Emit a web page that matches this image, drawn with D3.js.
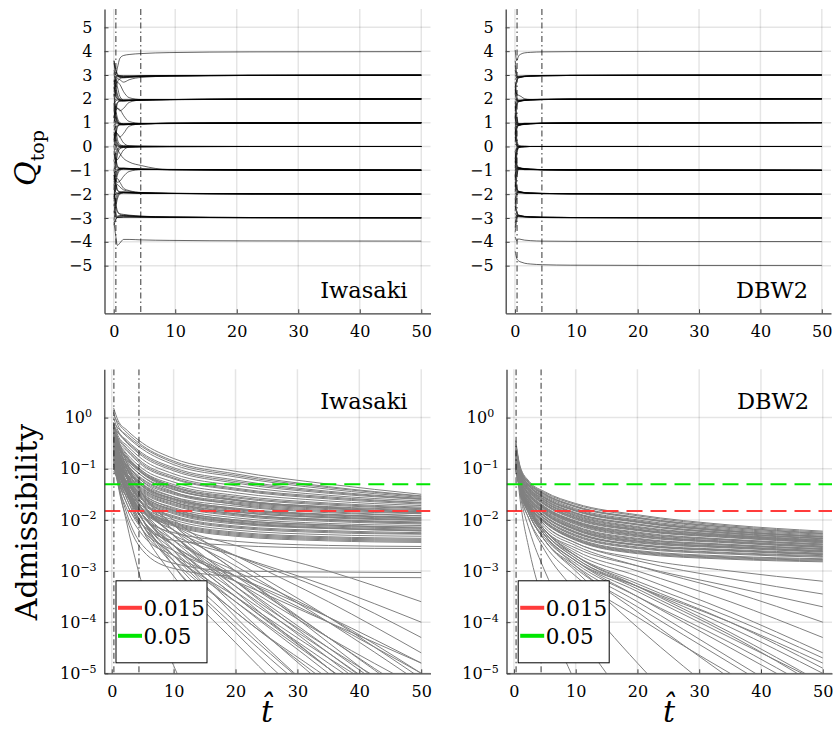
<!DOCTYPE html>
<html>
<head>
<meta charset="utf-8">
<script src="https://cdn.jsdelivr.net/npm/d3@7"></script>
<style>
  body { margin: 0; background: #fff; }
</style>
</head>
<body>
<div id="chart"></div>
<script>
// flow time grid used by the topological charge trajectories
const tTop = [0.05, 0.3, 0.6, 1, 1.6, 2.5, 4.5, 9, 22, 50];

// Q_top trajectories, Iwasaki action
const iwasakiQ = [
  [3.6, 3.0, 3.3, 3.7, 3.82, 3.86, 3.9, 3.94, 3.97, 3.98],
  [3.5, 3.2, 3.0, 2.9, 2.88, 2.9, 2.93, 2.96, 2.98, 2.99],
  [2.4, 2.8, 2.92, 2.92, 2.9, 2.91, 2.94, 2.96, 2.98, 2.99],
  [3.2, 3.0, 2.95, 2.93, 2.92, 2.93, 2.95, 2.97, 2.98, 2.99],
  [1.6, 2.3, 2.7, 2.85, 2.9, 2.92, 2.95, 2.97, 2.98, 2.99],
  [2.9, 2.95, 2.97, 2.96, 2.95, 2.95, 2.96, 2.97, 2.99, 3.0],
  [2.1, 2.6, 2.85, 2.8, 2.7, 2.8, 2.9, 2.95, 2.98, 2.99],
  [3.6, 3.3, 3.05, 2.95, 2.93, 2.94, 2.96, 2.97, 2.99, 3.0],
  [2.7, 2.9, 2.98, 2.98, 2.97, 2.97, 2.97, 2.98, 2.99, 3.0],
  [2.5, 2.2, 2.0, 1.92, 1.9, 1.92, 1.94, 1.96, 1.98, 1.99],
  [1.2, 1.6, 1.85, 1.9, 1.92, 1.93, 1.95, 1.97, 1.98, 1.99],
  [2.8, 2.4, 2.1, 1.95, 1.92, 1.93, 1.95, 1.97, 1.98, 1.99],
  [1.8, 1.9, 1.95, 1.96, 1.95, 1.95, 1.96, 1.97, 1.99, 2.0],
  [2.3, 2.6, 2.7, 2.6, 2.3, 2.05, 1.97, 1.97, 1.99, 2.0],
  [1.5, 1.7, 1.6, 1.5, 1.6, 1.85, 1.95, 1.97, 1.99, 2.0],
  [3.1, 2.6, 2.2, 2.0, 1.94, 1.94, 1.96, 1.97, 1.98, 1.99],
  [1.0, 1.4, 1.8, 1.92, 1.93, 1.94, 1.96, 1.97, 1.98, 2.0],
  [2.2, 2.1, 2.0, 1.96, 1.94, 1.95, 1.96, 1.97, 1.99, 2.0],
  [2.6, 2.8, 2.5, 2.1, 1.95, 1.94, 1.96, 1.97, 1.99, 2.0],
  [1.5, 1.2, 1.0, 0.92, 0.9, 0.92, 0.94, 0.96, 0.98, 0.99],
  [0.2, 0.6, 0.85, 0.9, 0.92, 0.93, 0.95, 0.97, 0.98, 0.99],
  [1.8, 1.4, 1.1, 0.95, 0.92, 0.93, 0.95, 0.97, 0.98, 0.99],
  [0.9, 0.95, 0.96, 0.96, 0.95, 0.95, 0.96, 0.97, 0.99, 1.0],
  [1.2, 1.5, 1.6, 1.55, 1.3, 1.05, 0.97, 0.97, 0.99, 1.0],
  [0.5, 0.6, 0.5, 0.4, 0.55, 0.85, 0.95, 0.97, 0.99, 1.0],
  [2.2, 1.6, 1.2, 1.0, 0.94, 0.94, 0.96, 0.97, 0.98, 0.99],
  [0.0, 0.4, 0.8, 0.92, 0.93, 0.94, 0.96, 0.97, 0.98, 1.0],
  [1.1, 1.05, 1.0, 0.96, 0.94, 0.95, 0.96, 0.97, 0.99, 1.0],
  [0.7, 0.8, 0.9, 0.93, 0.93, 0.94, 0.96, 0.97, 0.98, 0.99],
  [1.6, 1.3, 1.05, 0.97, 0.95, 0.95, 0.96, 0.98, 0.99, 1.0],
  [0.5, 0.2, 0.05, -0.02, -0.03, -0.02, -0.01, -0.01, 0.0, 0.0],
  [-0.6, -0.3, -0.1, -0.03, -0.02, -0.02, -0.01, -0.01, 0.0, 0.0],
  [0.9, 0.5, 0.15, 0.03, 0.02, 0.02, 0.01, 0.01, 0.0, 0.0],
  [-1.0, -0.6, -0.2, -0.05, -0.03, -0.02, -0.01, 0.0, 0.0, 0.0],
  [0.1, 0.05, 0.02, 0.01, 0.0, 0.0, 0.0, 0.0, 0.0, 0.0],
  [0.3, 0.6, 0.55, 0.4, 0.15, 0.03, 0.01, 0.0, 0.0, 0.0],
  [-0.3, -0.5, -0.55, -0.4, -0.15, -0.03, -0.01, 0.0, 0.0, 0.0],
  [1.3, 0.8, 0.3, 0.08, 0.03, 0.02, 0.01, 0.0, 0.0, 0.0],
  [-1.4, -0.9, -0.35, -0.1, -0.04, -0.02, -0.01, 0.0, 0.0, 0.0],
  [0.6, 0.3, 0.1, 0.02, 0.0, 0.0, 0.0, 0.0, 0.0, 0.0],
  [-1.5, -1.2, -1.0, -0.92, -0.9, -0.92, -0.94, -0.96, -0.98, -0.99],
  [-0.2, -0.6, -0.85, -0.9, -0.92, -0.93, -0.95, -0.97, -0.98, -0.99],
  [-1.8, -1.4, -1.1, -0.95, -0.92, -0.93, -0.95, -0.97, -0.98, -0.99],
  [-0.9, -0.95, -0.96, -0.96, -0.95, -0.95, -0.96, -0.97, -0.99, -1.0],
  [0.3, 0.1, -0.1, -0.3, -0.5, -0.65, -0.8, -0.97, -0.99, -1.0],
  [-1.2, -1.4, -1.5, -1.45, -1.25, -1.05, -0.97, -0.97, -0.99, -1.0],
  [-2.2, -1.6, -1.2, -1.0, -0.94, -0.94, -0.96, -0.97, -0.98, -0.99],
  [0.0, -0.4, -0.8, -0.92, -0.93, -0.94, -0.96, -0.97, -0.98, -1.0],
  [-1.1, -1.05, -1.0, -0.96, -0.94, -0.95, -0.96, -0.97, -0.99, -1.0],
  [-0.6, -0.8, -0.9, -0.93, -0.93, -0.94, -0.96, -0.97, -0.98, -0.99],
  [-2.5, -2.2, -2.0, -1.92, -1.9, -1.92, -1.94, -1.96, -1.98, -1.99],
  [-1.2, -1.6, -1.85, -1.9, -1.92, -1.93, -1.95, -1.97, -1.98, -1.99],
  [-2.8, -2.4, -2.1, -1.95, -1.92, -1.93, -1.95, -1.97, -1.98, -1.99],
  [-1.8, -1.9, -1.95, -1.96, -1.95, -1.95, -1.96, -1.97, -1.99, -2.0],
  [-1.6, -1.4, -1.35, -1.5, -1.75, -1.85, -1.93, -1.97, -1.99, -2.0],
  [-2.3, -1.8, -1.6, -1.7, -1.82, -1.88, -1.94, -1.97, -1.99, -2.0],
  [-3.1, -2.6, -2.2, -2.0, -1.94, -1.94, -1.96, -1.97, -1.98, -1.99],
  [-1.0, -1.4, -1.8, -1.92, -1.93, -1.94, -1.96, -1.97, -1.98, -2.0],
  [-2.1, -2.0, -1.97, -1.96, -1.94, -1.95, -1.96, -1.97, -1.99, -2.0],
  [-3.3, -3.1, -2.95, -2.9, -2.88, -2.9, -2.93, -2.96, -2.98, -2.99],
  [-2.4, -2.8, -2.92, -2.92, -2.9, -2.91, -2.94, -2.96, -2.98, -2.99],
  [-2.0, -2.5, -2.75, -2.82, -2.85, -2.88, -2.92, -2.96, -2.98, -2.99],
  [-1.6, -2.3, -2.7, -2.85, -2.9, -2.92, -2.95, -2.97, -2.98, -2.99],
  [-2.9, -2.95, -2.97, -2.96, -2.95, -2.95, -2.96, -2.97, -2.99, -3.0],
  [-3.2, -3.05, -2.98, -2.96, -2.95, -2.95, -2.96, -2.97, -2.99, -3.0],
  [-2.7, -2.9, -2.98, -2.98, -2.97, -2.97, -2.97, -2.98, -2.99, -3.0],
  [-3.2, -3.7, -4.15, -4.05, -3.9, -3.9, -3.92, -3.94, -3.96, -3.97]
];

// Q_top trajectories, DBW2 action
const dbw2Q = [
  [4.05, 3.6, 3.8, 3.88, 3.93, 3.95, 3.97, 3.98, 3.99, 3.99],
  [3.4, 2.95, 2.88, 2.9, 2.93, 2.95, 2.97, 2.98, 2.99, 3.0],
  [2.5, 2.8, 2.9, 2.92, 2.94, 2.96, 2.97, 2.98, 2.99, 3.0],
  [3.0, 2.9, 2.9, 2.92, 2.94, 2.96, 2.97, 2.98, 2.99, 3.0],
  [3.6, 3.1, 2.93, 2.93, 2.95, 2.96, 2.97, 2.98, 2.99, 3.0],
  [2.2, 2.7, 2.88, 2.91, 2.94, 2.95, 2.97, 2.98, 2.99, 3.0],
  [2.8, 2.92, 2.95, 2.96, 2.97, 2.97, 2.98, 2.99, 2.99, 3.0],
  [3.2, 2.97, 2.92, 2.93, 2.95, 2.96, 2.98, 2.99, 2.99, 3.0],
  [2.4, 1.95, 1.88, 1.9, 1.93, 1.95, 1.97, 1.98, 1.99, 2.0],
  [1.5, 1.8, 1.9, 1.92, 1.94, 1.96, 1.97, 1.98, 1.99, 2.0],
  [2.0, 1.9, 1.9, 1.92, 1.94, 1.96, 1.97, 1.98, 1.99, 2.0],
  [2.7, 2.15, 1.93, 1.93, 1.95, 1.96, 1.97, 1.98, 1.99, 2.0],
  [1.2, 1.7, 1.88, 1.91, 1.94, 1.95, 1.97, 1.98, 1.99, 2.0],
  [1.8, 1.92, 1.95, 1.96, 1.97, 1.97, 1.98, 1.99, 1.99, 2.0],
  [2.2, 1.97, 1.92, 1.93, 1.95, 1.96, 1.98, 1.99, 1.99, 2.0],
  [2.5, 2.2, 2.15, 2.1, 2.0, 1.97, 1.98, 1.99, 1.99, 2.0],
  [1.6, 1.85, 1.9, 1.92, 1.94, 1.96, 1.97, 1.98, 1.99, 2.0],
  [1.4, 0.95, 0.88, 0.9, 0.93, 0.95, 0.97, 0.98, 0.99, 1.0],
  [0.5, 0.8, 0.9, 0.92, 0.94, 0.96, 0.97, 0.98, 0.99, 1.0],
  [1.0, 0.9, 0.9, 0.92, 0.94, 0.96, 0.97, 0.98, 0.99, 1.0],
  [1.7, 1.15, 0.93, 0.93, 0.95, 0.96, 0.97, 0.98, 0.99, 1.0],
  [0.2, 0.7, 0.88, 0.91, 0.94, 0.95, 0.97, 0.98, 0.99, 1.0],
  [0.8, 0.92, 0.95, 0.96, 0.97, 0.97, 0.98, 0.99, 0.99, 1.0],
  [1.2, 0.97, 0.92, 0.93, 0.95, 0.96, 0.98, 0.99, 0.99, 1.0],
  [0.6, 0.85, 0.9, 0.92, 0.94, 0.96, 0.97, 0.98, 0.99, 1.0],
  [1.9, 1.3, 0.95, 0.94, 0.95, 0.96, 0.97, 0.98, 0.99, 1.0],
  [0.9, 0.95, 0.96, 0.96, 0.97, 0.97, 0.98, 0.99, 0.99, 1.0],
  [0.4, 0.05, -0.02, -0.01, -0.01, 0.0, 0.0, 0.0, 0.0, 0.0],
  [-0.5, -0.15, -0.04, -0.02, -0.01, 0.0, 0.0, 0.0, 0.0, 0.0],
  [0.8, 0.2, 0.03, 0.01, 0.01, 0.0, 0.0, 0.0, 0.0, 0.0],
  [-0.9, -0.25, -0.05, -0.02, -0.01, 0.0, 0.0, 0.0, 0.0, 0.0],
  [0.1, 0.02, 0.0, 0.0, 0.0, 0.0, 0.0, 0.0, 0.0, 0.0],
  [-0.2, -0.05, -0.01, 0.0, 0.0, 0.0, 0.0, 0.0, 0.0, 0.0],
  [1.3, 0.35, 0.05, 0.02, 0.01, 0.0, 0.0, 0.0, 0.0, 0.0],
  [-1.3, -0.4, -0.06, -0.02, -0.01, 0.0, 0.0, 0.0, 0.0, 0.0],
  [0.6, 0.1, 0.01, 0.0, 0.0, 0.0, 0.0, 0.0, 0.0, 0.0],
  [-0.7, -0.1, -0.02, -0.01, 0.0, 0.0, 0.0, 0.0, 0.0, 0.0],
  [-1.4, -0.95, -0.88, -0.9, -0.93, -0.95, -0.97, -0.98, -0.99, -1.0],
  [-0.5, -0.8, -0.9, -0.92, -0.94, -0.96, -0.97, -0.98, -0.99, -1.0],
  [-1.0, -0.9, -0.9, -0.92, -0.94, -0.96, -0.97, -0.98, -0.99, -1.0],
  [-1.7, -1.15, -0.93, -0.93, -0.95, -0.96, -0.97, -0.98, -0.99, -1.0],
  [-0.2, -0.7, -0.88, -0.91, -0.94, -0.95, -0.97, -0.98, -0.99, -1.0],
  [-0.8, -0.92, -0.95, -0.96, -0.97, -0.97, -0.98, -0.99, -0.99, -1.0],
  [-1.2, -0.97, -0.92, -0.93, -0.95, -0.96, -0.98, -0.99, -0.99, -1.0],
  [-0.6, -0.85, -0.9, -0.92, -0.94, -0.96, -0.97, -0.98, -0.99, -1.0],
  [-1.9, -1.3, -0.95, -0.94, -0.95, -0.96, -0.97, -0.98, -0.99, -1.0],
  [-0.9, -0.95, -0.96, -0.96, -0.97, -0.97, -0.98, -0.99, -0.99, -1.0],
  [-2.4, -1.95, -1.88, -1.9, -1.93, -1.95, -1.97, -1.98, -1.99, -2.0],
  [-1.5, -1.8, -1.9, -1.92, -1.94, -1.96, -1.97, -1.98, -1.99, -2.0],
  [-2.0, -1.9, -1.9, -1.92, -1.94, -1.96, -1.97, -1.98, -1.99, -2.0],
  [-2.7, -2.15, -1.93, -1.93, -1.95, -1.96, -1.97, -1.98, -1.99, -2.0],
  [-1.2, -1.7, -1.88, -1.91, -1.94, -1.95, -1.97, -1.98, -1.99, -2.0],
  [-1.8, -1.92, -1.95, -1.96, -1.97, -1.97, -1.98, -1.99, -1.99, -2.0],
  [-2.2, -1.97, -1.92, -1.93, -1.95, -1.96, -1.98, -1.99, -1.99, -2.0],
  [-1.6, -1.85, -1.9, -1.92, -1.94, -1.96, -1.97, -1.98, -1.99, -2.0],
  [-3.4, -2.95, -2.88, -2.9, -2.93, -2.95, -2.97, -2.98, -2.99, -3.0],
  [-2.5, -2.8, -2.9, -2.92, -2.94, -2.96, -2.97, -2.98, -2.99, -3.0],
  [-3.0, -2.9, -2.9, -2.92, -2.94, -2.96, -2.97, -2.98, -2.99, -3.0],
  [-3.6, -3.1, -2.93, -2.93, -2.95, -2.96, -2.97, -2.98, -2.99, -3.0],
  [-2.2, -2.7, -2.88, -2.91, -2.94, -2.95, -2.97, -2.98, -2.99, -3.0],
  [-2.8, -2.92, -2.95, -2.96, -2.97, -2.97, -2.98, -2.99, -2.99, -3.0],
  [-3.2, -2.97, -2.92, -2.93, -2.95, -2.96, -2.98, -2.99, -2.99, -3.0],
  [-3.8, -3.95, -3.88, -3.9, -3.93, -3.95, -3.97, -3.98, -3.99, -3.99],
  [-4.4, -4.7, -4.8, -4.85, -4.9, -4.93, -4.96, -4.98, -4.99, -4.99]
];

// flow time grid used by the admissibility curves
const tBottom = [0.3, 1, 2.5, 5, 10, 20, 35, 50];

// log10(admissibility), Iwasaki action
const iwasakiLogAdm = [
  [0.19, -0.05, -0.25, -0.5, -0.8, -1.05, -1.3, -1.5],
  [0.1, -0.15, -0.35, -0.58, -0.88, -1.13, -1.37, -1.54],
  [0.05, -0.1, -0.3, -0.55, -0.85, -1.1, -1.35, -1.53],
  [-0.1, -0.2, -0.38, -0.62, -0.92, -1.16, -1.4, -1.56],
  [0.0, -0.25, -0.45, -0.7, -0.98, -1.22, -1.44, -1.58],
  [-0.15, -0.28, -0.48, -0.73, -1.01, -1.25, -1.46, -1.59],
  [-0.2, -0.3, -0.5, -0.76, -1.04, -1.28, -1.48, -1.6],
  [-0.1, -0.35, -0.55, -0.82, -1.1, -1.33, -1.52, -1.63],
  [-0.3, -0.4, -0.6, -0.88, -1.15, -1.38, -1.55, -1.66],
  [-0.3, -0.42, -0.63, -0.91, -1.18, -1.4, -1.57, -1.67],
  [-0.25, -0.45, -0.66, -0.94, -1.2, -1.42, -1.59, -1.69],
  [-0.4, -0.5, -0.72, -1.0, -1.26, -1.47, -1.63, -1.72],
  [-0.35, -0.55, -0.78, -1.05, -1.31, -1.52, -1.67, -1.75],
  [-0.45, -0.58, -0.8, -1.08, -1.34, -1.55, -1.69, -1.77],
  [-0.5, -0.6, -0.83, -1.1, -1.36, -1.57, -1.71, -1.78],
  [-0.45, -0.65, -0.88, -1.15, -1.41, -1.61, -1.75, -1.82],
  [-0.6, -0.7, -0.93, -1.2, -1.46, -1.65, -1.78, -1.85],
  [-0.6, -0.72, -0.95, -1.22, -1.48, -1.67, -1.8, -1.87],
  [-0.55, -0.75, -0.98, -1.25, -1.5, -1.69, -1.82, -1.88],
  [-0.7, -0.8, -1.02, -1.3, -1.55, -1.73, -1.86, -1.92],
  [-0.3, -0.6, -0.95, -1.3, -1.58, -1.77, -1.89, -1.95],
  [-0.35, -0.65, -0.99, -1.32, -1.59, -1.79, -1.9, -1.96],
  [-0.8, -0.85, -1.06, -1.34, -1.6, -1.8, -1.92, -1.98],
  [-0.4, -0.7, -1.02, -1.38, -1.65, -1.84, -1.96, -2.01],
  [-0.65, -0.9, -1.12, -1.42, -1.68, -1.88, -1.99, -2.04],
  [-0.7, -0.92, -1.14, -1.44, -1.7, -1.9, -2.01, -2.06],
  [-0.9, -0.95, -1.16, -1.46, -1.72, -1.92, -2.03, -2.08],
  [-0.5, -0.85, -1.18, -1.5, -1.76, -1.96, -2.07, -2.11],
  [-0.75, -1.0, -1.24, -1.54, -1.8, -2.0, -2.1, -2.14],
  [-0.9, -1.02, -1.26, -1.56, -1.82, -2.02, -2.12, -2.16],
  [-1.0, -1.05, -1.28, -1.58, -1.84, -2.04, -2.14, -2.18],
  [-0.65, -0.98, -1.28, -1.6, -1.86, -2.06, -2.16, -2.2],
  [-0.6, -0.95, -1.3, -1.62, -1.88, -2.08, -2.17, -2.21],
  [-0.85, -1.1, -1.36, -1.66, -1.92, -2.12, -2.21, -2.25],
  [-0.75, -1.08, -1.38, -1.68, -1.94, -2.14, -2.23, -2.27],
  [-0.95, -1.15, -1.4, -1.7, -1.96, -2.16, -2.25, -2.28],
  [-0.7, -1.05, -1.42, -1.74, -2.0, -2.2, -2.29, -2.32],
  [-1.05, -1.2, -1.46, -1.78, -2.04, -2.24, -2.33, -2.36],
  [-1.0, -1.18, -1.48, -1.8, -2.06, -2.26, -2.35, -2.38],
  [-0.8, -1.15, -1.5, -1.82, -2.08, -2.28, -2.37, -2.4],
  [-0.85, -1.22, -1.52, -1.84, -2.1, -2.3, -2.39, -2.42],
  [-0.9, -1.25, -1.55, -1.86, -2.12, -2.32, -2.41, -2.44],
  [-0.2, -0.5, -0.8, -1.1, -1.4, -1.62, -1.74, -1.8],
  [-0.25, -0.5, -0.78, -1.08, -1.38, -1.62, -1.77, -1.84],
  [-0.55, -0.85, -1.1, -1.4, -1.65, -1.85, -1.95, -2.0],
  [-0.55, -0.8, -1.05, -1.35, -1.62, -1.82, -1.94, -2.0],
  [-0.3, -0.65, -1.0, -1.35, -1.65, -1.88, -2.0, -2.06],
  [-0.15, -0.45, -0.75, -1.05, -1.35, -1.6, -1.76, -1.86],
  [-0.45, -0.8, -1.15, -1.48, -1.78, -2.0, -2.1, -2.16],
  [-0.65, -0.9, -1.2, -1.52, -1.82, -2.05, -2.16, -2.22],
  [-0.35, -0.55, -0.85, -1.15, -1.45, -1.7, -1.84, -1.92],
  [-0.25, -0.55, -0.9, -1.25, -1.55, -1.78, -1.9, -1.97],
  [-0.5, -1.1, -1.7, -2.1, -2.4, -2.5, -2.55, -2.56],
  [-0.6, -1.2, -1.9, -2.5, -2.85, -3.0, -3.02, -3.03],
  [-0.7, -1.3, -2.0, -2.6, -2.95, -3.1, -3.12, -3.13],
  [-0.4, -0.9, -1.5, -1.95, -2.25, -2.42, -2.5, -2.52],
  [-0.5, -1.2, -2.1, -3.3, -4.85, -7.0, -9.0, -11.0],
  [-0.4, -0.9, -1.5, -2.2, -3.1, -4.4, -6.2, -8.0],
  [-0.3, -0.8, -1.4, -2.0, -2.9, -4.2, -5.9, -7.5],
  [-0.5, -0.9, -1.4, -1.9, -2.6, -3.9, -5.6, -7.2],
  [-0.2, -0.6, -1.2, -1.8, -2.5, -3.7, -5.3, -6.8],
  [-0.6, -1.0, -1.5, -2.0, -2.7, -3.8, -5.1, -6.4],
  [-0.3, -0.7, -1.2, -1.7, -2.3, -3.4, -4.9, -6.3],
  [-0.5, -0.9, -1.4, -1.9, -2.5, -3.5, -4.8, -6.0],
  [-0.2, -0.6, -1.1, -1.6, -2.2, -3.2, -4.6, -5.9],
  [-0.7, -1.1, -1.6, -2.1, -2.7, -3.5, -4.7, -5.8],
  [-0.4, -0.8, -1.3, -1.8, -2.4, -3.3, -4.5, -5.6],
  [-0.1, -0.4, -0.9, -1.5, -2.1, -3.0, -4.3, -5.5],
  [-0.6, -1.0, -1.5, -2.0, -2.5, -3.2, -4.3, -5.3],
  [-0.3, -0.7, -1.2, -1.7, -2.2, -2.9, -4.0, -5.2],
  [-0.5, -0.9, -1.4, -1.9, -2.4, -3.0, -3.9, -5.0],
  [-0.8, -1.2, -1.7, -2.2, -2.6, -3.1, -3.9, -4.8],
  [-0.2, -0.6, -1.1, -1.6, -2.1, -2.7, -3.6, -4.6],
  [-0.4, -0.8, -1.3, -1.8, -2.2, -2.7, -3.4, -4.3],
  [-0.6, -1.0, -1.5, -1.9, -2.3, -2.7, -3.3, -4.0],
  [-0.3, -0.7, -1.2, -1.7, -2.1, -2.5, -3.0, -3.6],
  [-0.5, -0.9, -1.4, -2.0, -2.6, -3.6, -5.0, -6.5],
  [-0.2, -0.5, -1.0, -1.5, -2.1, -3.0, -4.4, -5.8],
  [-0.7, -1.1, -1.6, -2.2, -2.8, -3.8, -5.2, -6.6],
  [-0.4, -0.8, -1.2, -1.7, -2.3, -3.3, -4.7, -6.1],
  [-0.1, -0.5, -1.0, -1.5, -2.0, -2.8, -3.9, -5.1],
  [-0.9, -1.3, -1.8, -2.3, -2.7, -3.2, -4.0, -4.8],
  [-0.3, -0.75, -1.3, -1.9, -2.5, -3.5, -4.9, -6.4],
  [-0.6, -1.0, -1.5, -2.1, -2.7, -3.6, -4.9, -6.2],
  [-0.2, -0.6, -1.1, -1.7, -2.3, -3.2, -4.5, -5.8],
  [-0.45, -0.85, -1.35, -1.9, -2.5, -3.4, -4.6, -5.9],
  [-0.35, -0.8, -1.35, -2.0, -2.8, -4.0, -5.6, -7.2],
  [-0.55, -0.95, -1.45, -2.0, -2.5, -3.1, -4.0, -5.0],
  [-0.25, -0.65, -1.15, -1.7, -2.3, -3.1, -4.3, -5.6],
  [-0.5, -0.95, -1.5, -2.1, -2.9, -4.1, -5.7, -7.3]
];

// log10(admissibility), DBW2 action
const dbw2LogAdm = [
  [-0.45, -0.95, -1.25, -1.45, -1.68, -1.9, -2.1, -2.22],
  [-0.5, -0.97, -1.27, -1.47, -1.7, -1.92, -2.12, -2.24],
  [-0.5, -0.99, -1.29, -1.5, -1.74, -1.96, -2.15, -2.27],
  [-0.55, -1.0, -1.28, -1.49, -1.73, -1.95, -2.14, -2.26],
  [-0.6, -1.0, -1.3, -1.51, -1.75, -1.97, -2.17, -2.28],
  [-0.52, -1.02, -1.32, -1.53, -1.78, -2.0, -2.19, -2.3],
  [-0.7, -1.04, -1.33, -1.55, -1.8, -2.02, -2.21, -2.32],
  [-0.65, -1.05, -1.34, -1.565, -1.815, -2.035, -2.22, -2.33],
  [-0.62, -1.06, -1.35, -1.58, -1.83, -2.05, -2.23, -2.34],
  [-0.75, -1.08, -1.37, -1.6, -1.86, -2.08, -2.25, -2.36],
  [-0.7, -1.09, -1.38, -1.61, -1.87, -2.09, -2.26, -2.365],
  [-0.66, -1.1, -1.39, -1.62, -1.88, -2.1, -2.27, -2.37],
  [-0.8, -1.12, -1.4, -1.64, -1.9, -2.13, -2.29, -2.39],
  [-0.78, -1.125, -1.41, -1.65, -1.915, -2.145, -2.3, -2.4],
  [-0.72, -1.13, -1.42, -1.66, -1.93, -2.16, -2.31, -2.41],
  [-0.85, -1.15, -1.44, -1.69, -1.96, -2.19, -2.33, -2.43],
  [-0.8, -1.16, -1.45, -1.7, -1.975, -2.2, -2.34, -2.44],
  [-0.78, -1.17, -1.46, -1.71, -1.99, -2.21, -2.35, -2.45],
  [-0.9, -1.19, -1.48, -1.74, -2.02, -2.24, -2.38, -2.47],
  [-0.85, -1.195, -1.49, -1.75, -2.03, -2.255, -2.39, -2.48],
  [-0.82, -1.2, -1.5, -1.76, -2.04, -2.27, -2.4, -2.49],
  [-0.95, -1.22, -1.52, -1.78, -2.06, -2.3, -2.43, -2.52],
  [-0.9, -1.23, -1.53, -1.79, -2.075, -2.315, -2.44, -2.53],
  [-0.87, -1.24, -1.54, -1.8, -2.09, -2.33, -2.45, -2.54],
  [-0.7, -1.25, -1.56, -1.82, -2.12, -2.36, -2.48, -2.56],
  [-0.92, -1.26, -1.57, -1.835, -2.135, -2.375, -2.49, -2.57],
  [-0.92, -1.27, -1.58, -1.85, -2.15, -2.39, -2.5, -2.58],
  [-0.98, -1.29, -1.6, -1.87, -2.18, -2.42, -2.53, -2.61],
  [-0.8, -1.3, -1.62, -1.89, -2.2, -2.45, -2.55, -2.63],
  [-0.95, -1.3, -1.61, -1.88, -2.19, -2.435, -2.54, -2.62],
  [-1.0, -1.32, -1.64, -1.92, -2.23, -2.48, -2.58, -2.65],
  [-0.97, -1.33, -1.65, -1.93, -2.245, -2.49, -2.595, -2.665],
  [-0.88, -1.34, -1.66, -1.94, -2.26, -2.5, -2.61, -2.68],
  [-1.02, -1.35, -1.68, -1.97, -2.29, -2.53, -2.64, -2.7],
  [-1.0, -1.36, -1.69, -1.98, -2.305, -2.545, -2.655, -2.715],
  [-0.95, -1.37, -1.7, -1.99, -2.32, -2.56, -2.67, -2.73],
  [-1.05, -1.38, -1.72, -2.02, -2.35, -2.6, -2.71, -2.76],
  [-1.02, -1.39, -1.73, -2.03, -2.365, -2.615, -2.725, -2.775],
  [-0.98, -1.4, -1.74, -2.04, -2.38, -2.63, -2.74, -2.79],
  [-1.0, -1.41, -1.75, -2.05, -2.39, -2.645, -2.755, -2.805],
  [-1.0, -1.42, -1.76, -2.06, -2.4, -2.66, -2.77, -2.82],
  [-0.6, -1.05, -1.34, -1.57, -1.82, -2.04, -2.22, -2.33],
  [-0.75, -1.14, -1.43, -1.68, -1.95, -2.18, -2.32, -2.42],
  [-0.85, -1.21, -1.51, -1.77, -2.05, -2.29, -2.42, -2.51],
  [-0.9, -1.28, -1.59, -1.86, -2.17, -2.41, -2.52, -2.6],
  [-0.95, -1.33, -1.65, -1.93, -2.25, -2.49, -2.6, -2.67],
  [-0.8, -1.6, -2.6, -3.7, -5.2, -7.5, -10.0, -12.0],
  [-0.9, -1.5, -2.2, -3.0, -4.1, -5.8, -8.0, -10.0],
  [-0.7, -1.4, -2.0, -2.6, -3.4, -4.8, -6.6, -8.0],
  [-0.9, -1.4, -1.9, -2.4, -3.0, -4.1, -5.6, -7.0],
  [-0.8, -1.3, -1.8, -2.3, -2.9, -3.8, -5.1, -6.4],
  [-0.9, -1.4, -1.9, -2.4, -2.9, -3.6, -4.7, -5.8],
  [-0.8, -1.35, -1.85, -2.3, -2.8, -3.5, -4.5, -5.5],
  [-0.9, -1.4, -1.8, -2.2, -2.7, -3.3, -4.2, -5.2],
  [-0.85, -1.35, -1.8, -2.25, -2.75, -3.3, -4.1, -5.0],
  [-0.9, -1.4, -1.85, -2.3, -2.8, -3.3, -4.0, -4.8],
  [-0.8, -1.3, -1.75, -2.2, -2.65, -3.1, -3.8, -4.6],
  [-0.9, -1.4, -1.8, -2.2, -2.6, -3.0, -3.6, -4.3],
  [-0.85, -1.35, -1.75, -2.15, -2.5, -2.9, -3.4, -4.0],
  [-0.9, -1.4, -1.8, -2.2, -2.55, -2.9, -3.3, -3.7],
  [-0.8, -1.3, -1.7, -2.1, -2.45, -2.8, -3.15, -3.45],
  [-0.9, -1.35, -1.75, -2.1, -2.45, -2.75, -3.0, -3.2],
  [-0.8, -1.35, -1.8, -2.25, -2.7, -3.2, -3.9, -4.7],
  [-0.9, -1.4, -1.9, -2.35, -2.85, -3.5, -4.4, -5.4],
  [-0.85, -1.45, -2.0, -2.5, -3.1, -3.9, -5.0, -6.0],
  [-0.8, -1.3, -1.8, -2.3, -2.8, -3.4, -4.3, -5.2],
  [-0.85, -1.4, -1.9, -2.4, -2.95, -3.7, -4.8, -5.9],
  [-0.9, -1.35, -1.8, -2.25, -2.75, -3.35, -4.25, -5.3],
  [-0.8, -1.3, -1.75, -2.2, -2.7, -3.25, -4.0, -4.9]
];

const xTicks = [0, 10, 20, 30, 40, 50];
const qTicks = [-5, -4, -3, -2, -1, 0, 1, 2, 3, 4, 5];
const admTicks = [1e0, 1e-1, 1e-2, 1e-3, 1e-4, 1e-5];
const thresholds = [0.015, 0.05];
const thresholdColors = ["#ff3b3b", "#00e600"];
const tMarks = [0.35, 4.4];

const serif = "DejaVu Serif";

const svg = d3.select("#chart").append("svg")
  .attr("width", 834)
  .attr("height", 735)
  .style("font-family", serif);

const panels = [
  {id: "tl", l: 104.5, r: 430.5, t: 9, b: 313.3, kind: "q", lines: iwasakiQ, name: "Iwasaki"},
  {id: "tr", l: 505.7, r: 831, t: 9, b: 313.3, kind: "q", lines: dbw2Q, name: "DBW2"},
  {id: "bl", l: 104.3, r: 430.5, t: 369.3, b: 673.3, kind: "adm", lines: iwasakiLogAdm, name: "Iwasaki"},
  {id: "br", l: 506.5, r: 832, t: 369.3, b: 673.3, kind: "adm", lines: dbw2LogAdm, name: "DBW2"}
];

panels.forEach(p => drawPanel(p));

function drawPanel(p) {
  const isQ = p.kind === "q";
  const x = d3.scaleLinear()
    .domain(isQ ? [-1.5, 51.5] : [-1.2, 51.5])
    .range([p.l, p.r]);
  const y = isQ
    ? d3.scaleLinear().domain([-7, 5.77]).range([p.b, p.t])
    : d3.scaleLog().domain([1e-5, 8.8]).range([p.b, p.t]);
  const yTicks = isQ ? qTicks : admTicks;
  const tGrid = isQ ? tTop : tBottom;

  const g = svg.append("g");

  g.append("clipPath").attr("id", "clip-" + p.id)
    .append("rect")
    .attr("x", p.l).attr("y", p.t)
    .attr("width", p.r - p.l).attr("height", p.b - p.t);

  // grid
  g.append("g").selectAll("line").data(xTicks).join("line")
    .attr("x1", d => x(d)).attr("x2", d => x(d))
    .attr("y1", p.t).attr("y2", p.b)
    .attr("stroke", "#000").attr("stroke-opacity", 0.1).attr("stroke-width", 1.5);
  g.append("g").selectAll("line").data(yTicks).join("line")
    .attr("x1", p.l).attr("x2", p.r)
    .attr("y1", d => y(d)).attr("y2", d => y(d))
    .attr("stroke", "#000").attr("stroke-opacity", 0.1).attr("stroke-width", 1.5);

  const plot = g.append("g").attr("clip-path", `url(#clip-${p.id})`);

  const line = d3.line()
    .x((d, i) => x(tGrid[i]))
    .y(d => isQ ? y(d) : y(Math.pow(10, d)))
    .curve(d3.curveMonotoneX);

  plot.append("g").selectAll("path").data(p.lines).join("path")
    .attr("d", line)
    .attr("fill", "none")
    .attr("stroke", isQ ? "#000" : "#808080")
    .attr("stroke-opacity", isQ ? 0.6 : 1)
    .attr("stroke-width", 1);

  if (!isQ) {
    plot.append("g").selectAll("line").data(thresholds).join("line")
      .attr("x1", p.l).attr("x2", p.r)
      .attr("y1", d => y(d)).attr("y2", d => y(d))
      .attr("stroke", (d, i) => thresholdColors[i])
      .attr("stroke-width", 2)
      .attr("stroke-dasharray", "16,8");
  }

  // dash-dot flow time markers
  plot.append("g").selectAll("line").data(tMarks).join("line")
    .attr("x1", d => x(d)).attr("x2", d => x(d))
    .attr("y1", p.t).attr("y2", p.b)
    .attr("stroke", "#000").attr("stroke-opacity", 0.8)
    .attr("stroke-width", 1)
    .attr("stroke-dasharray", "6,3,1.5,3");

  // axes
  const xAxis = g.append("g")
    .attr("transform", `translate(0,${p.b})`)
    .call(d3.axisBottom(x).tickValues(xTicks).tickSize(-4).tickSizeOuter(0).tickPadding(12));
  const yAxis = g.append("g")
    .attr("transform", `translate(${p.l},0)`)
    .call(d3.axisLeft(y).tickValues(yTicks).tickSize(-4).tickSizeOuter(0).tickPadding(12));

  [xAxis, yAxis].forEach(a => {
    a.attr("font-family", null).attr("font-size", 16);
    a.selectAll(".domain").attr("stroke", "#404040").attr("stroke-width", 1.3);
    a.selectAll(".tick line").attr("stroke", "#404040").attr("stroke-width", 1);
    a.selectAll("text").attr("fill", "#000");
  });

  if (!isQ) {
    yAxis.selectAll(".tick text").each(function (d) {
      const e = Math.round(Math.log10(d));
      const t = d3.select(this);
      t.text(null)
        .attr("text-anchor", "middle")
        .attr("x", -26);
      t.append("tspan").text("10");
      t.append("tspan")
        .attr("dy", "-0.55em")
        .attr("font-size", 11)
        .text(e === 0 ? "0" : "\u2212" + (-e));
    });
  }

  // action name
  g.append("text")
    .attr("x", p.r - 23)
    .attr("y", isQ ? p.b - 15.6 : p.t + 40)
    .attr("text-anchor", "end")
    .attr("font-size", 22.5)
    .text(p.name);

  // legend
  if (!isQ) {
    const lx = p.l + 11.7, ly = 580.8;
    const leg = g.append("g").attr("transform", `translate(${lx},${ly})`);
    leg.append("rect")
      .attr("width", 91).attr("height", 82)
      .attr("fill", "#fff").attr("stroke", "#000").attr("stroke-width", 1);
    thresholds.forEach((v, i) => {
      leg.append("line")
        .attr("x1", 2).attr("x2", 26)
        .attr("y1", 27 + i * 28).attr("y2", 27 + i * 28)
        .attr("stroke", thresholdColors[i]).attr("stroke-width", 4);
      leg.append("text")
        .attr("x", 27.5).attr("y", 35 + i * 28)
        .attr("font-size", 21.5)
        .text(String(v));
    });
  }
}

// axis titles
svg.append("text")
  .attr("transform", "translate(36,158) rotate(-90)")
  .attr("text-anchor", "middle")
  .call(t => {
    t.append("tspan").attr("font-size", 30).attr("font-style", "italic").text("Q");
    t.append("tspan").attr("font-size", 19).attr("dy", "0.4em").text("top");
  });

svg.append("text")
  .attr("transform", "translate(37,522) rotate(-90)")
  .attr("text-anchor", "middle")
  .attr("font-size", 30)
  .text("Admissibility");

[267, 669].forEach(cx => {
  svg.append("text")
    .attr("x", cx).attr("y", 722)
    .attr("text-anchor", "middle")
    .attr("font-size", 30)
    .attr("font-style", "italic")
    .text("t\u0302");
});
</script>
</body>
</html>
